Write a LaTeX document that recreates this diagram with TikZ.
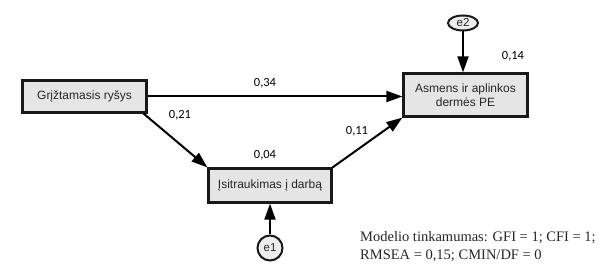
\documentclass[tikz,border=0pt]{standalone}
\usepackage{fontspec}
\setmainfont{Liberation Serif}
\newfontfamily\boxfont{Liberation Sans}
\newfontfamily\numfont{Carlito}
\usetikzlibrary{arrows.meta,shapes.geometric}
\begin{document}
\begin{tikzpicture}[x=1pt,y=-1pt,
  var/.style={draw=black!90,line width=2.2pt,fill=black!10,inner sep=0pt,
    font=\boxfont\fontsize{12}{14}\selectfont,text=black!85,align=center},
  err/.style={draw=black!90,line width=2pt,fill=black!7,inner sep=0pt,
    font=\boxfont\fontsize{11.5}{12}\selectfont,text=black!85},
  path/.style={line width=2pt,-{Triangle[length=16pt,width=11pt]}},
  lab/.style={font=\numfont\fontsize{12.5}{14}\selectfont}]
\useasboundingbox (0,0) rectangle (613,280);
\node[var,minimum width=124pt,minimum height=32pt] (g) at (84.5,96.5) {Grįžtamasis ryšys};
\node[var,minimum width=124pt,minimum height=43pt] (a) at (465.5,95) {Asmens ir aplinkos\\dermės PE};
\node[var,minimum width=123pt,minimum height=34pt] (i) at (270,185.5) {Įsitraukimas į darbą};
\node[err,circle,minimum size=25pt] (e1) at (270,248) {e1};
\node[err,ellipse,minimum width=30pt,minimum height=15pt] (e2) at (463,23) {e2};
\draw[path] (g.east) -- (a.west |- g.east);
\path (g.south east) ++(-4,0) coordinate (gs);
\draw[path] (gs) -- (i.north west);
\draw[path] (i.north east) -- (a.south west);
\draw[path] (e1) -- (i);
\draw[path] (e2) -- (a.north -| e2);
\node[lab] (l1) at (265,83) {0,34};
\node[lab] (l2) at (180,115) {0,21};
\node[lab] (l3) at (265,155) {0,04};
\node[lab] (l4) at (357,131) {0,11};
\node[lab] (l5) at (513,56) {0,14};
\node[anchor=north west,align=left,font=\fontsize{14.5}{18}\selectfont,text=black!85,inner sep=0pt] (fit) at (360,231)
  {Modelio tinkamumas: GFI = 1; CFI = 1;\\RMSEA = 0,15; CMIN/DF = 0};
\end{tikzpicture}
\end{document}
